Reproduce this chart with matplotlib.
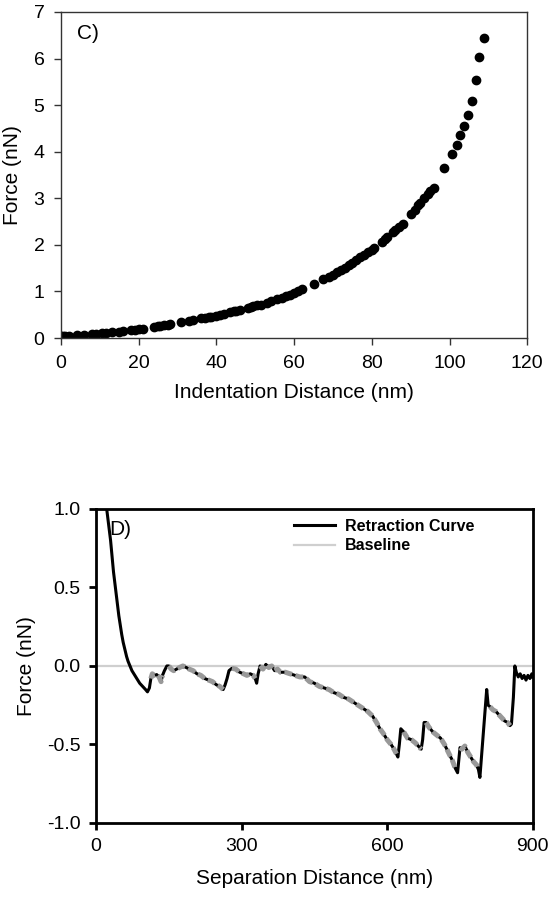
import numpy as np
import matplotlib.pyplot as plt

plt.rcParams['font.family'] = ['Liberation Sans', 'DejaVu Sans']

# panel C: indentation (nm) vs force (nN)
indent_nm = [0, 0.5, 1, 2, 4, 6, 8, 9, 10.5, 11.5, 13, 15, 16, 18, 19, 20, 21,
             24, 25, 25.5, 26.5, 27.5, 28, 31, 33, 34, 36, 37, 38, 38.5, 40, 41,
             42, 43.5, 44.5, 45, 46, 48, 49, 49.5, 50.5, 51.5, 53, 54, 55.5, 57,
             58, 59, 60, 61, 62, 65, 67.5, 69, 70, 71, 72, 73, 74, 75, 76, 77,
             78, 79, 80, 80.5, 82.5, 83.5, 84, 85.5, 86, 87, 88, 90, 91, 92,
             92.5, 93.5, 94.5, 95, 96, 98.6, 100.7, 102, 102.8, 103.8, 104.8,
             105.8, 106.9, 107.7, 108.9]
force_nN = [0.04, 0.04, 0.05, 0.05, 0.06, 0.07, 0.08, 0.09, 0.10, 0.11, 0.12,
            0.14, 0.15, 0.17, 0.18, 0.19, 0.20, 0.24, 0.26, 0.26, 0.28, 0.29,
            0.30, 0.34, 0.37, 0.38, 0.42, 0.43, 0.45, 0.46, 0.48, 0.50, 0.52,
            0.55, 0.57, 0.58, 0.60, 0.64, 0.66, 0.68, 0.70, 0.72, 0.76, 0.79,
            0.83, 0.87, 0.90, 0.93, 0.97, 1.00, 1.05, 1.15, 1.26, 1.32, 1.36,
            1.41, 1.46, 1.51, 1.56, 1.62, 1.67, 1.73, 1.78, 1.84, 1.90, 1.93,
            2.06, 2.12, 2.16, 2.27, 2.31, 2.38, 2.45, 2.66, 2.75, 2.85, 2.90,
            3.00, 3.10, 3.15, 3.22, 3.65, 3.95, 4.14, 4.36, 4.55, 4.79, 5.09,
            5.54, 6.04, 6.45]

# panel D: retraction curve, separation (nm) vs force (nN)
sep_nm = [18, 22, 26, 30, 33, 36, 40, 44, 47, 50, 53, 56, 60, 63, 66, 70, 74,
          78, 84, 90, 96, 102, 106, 110, 113, 116, 120, 125, 130, 134, 137,
          141, 146, 150, 155, 160, 166, 172, 179, 186, 192, 200, 208, 216, 224,
          232, 240, 248, 255, 262, 266, 270, 274, 280, 288, 296, 304, 311, 318,
          324, 328, 331, 334, 338, 344, 350, 356, 362, 368, 374, 380, 390, 400,
          410, 420, 430, 440, 450, 460, 470, 480, 490, 500, 510, 520, 530, 540,
          550, 560, 570, 578, 585, 592, 600, 608, 614, 619, 622, 625, 628, 634,
          642, 650, 658, 664, 670, 673, 676, 680, 686, 694, 702, 710, 718, 726,
          734, 740, 745, 748, 750, 754, 760, 766, 772, 778, 784, 788, 791, 795,
          800, 805, 808, 812, 818, 824, 830, 836, 842, 848, 853, 856, 860, 863,
          866, 870, 874, 878, 882, 886, 890, 894, 898, 900]
retract_nN = [1.08, 1.0, 0.9, 0.80, 0.70, 0.60, 0.50, 0.40, 0.32, 0.26, 0.20,
              0.15, 0.10, 0.06, 0.03, 0.0, -0.03, -0.05, -0.08, -0.11, -0.13,
              -0.15, -0.165, -0.14, -0.08, -0.05, -0.06, -0.055, -0.07, -0.10,
              -0.06, -0.03, 0.0, 0.0, -0.02, -0.03, -0.02, -0.01, 0.0, -0.01,
              -0.02, -0.03, -0.05, -0.06, -0.08, -0.09, -0.10, -0.12, -0.13,
              -0.15, -0.12, -0.08, -0.03, -0.015, -0.02, -0.04, -0.05, -0.06,
              -0.05, -0.06, -0.08, -0.11, -0.05, 0.0, -0.02, 0.01, -0.01, 0.0,
              -0.03, -0.02, -0.04, -0.04, -0.05, -0.06, -0.07, -0.07, -0.10,
              -0.11, -0.13, -0.14, -0.15, -0.17, -0.18, -0.20, -0.21, -0.23,
              -0.25, -0.27, -0.29, -0.32, -0.36, -0.40, -0.43, -0.47, -0.50,
              -0.53, -0.56, -0.58, -0.50, -0.40, -0.42, -0.46, -0.47, -0.49,
              -0.51, -0.53, -0.47, -0.36, -0.36, -0.39, -0.42, -0.44, -0.46,
              -0.50, -0.55, -0.60, -0.65, -0.68, -0.58, -0.52, -0.53, -0.51,
              -0.55, -0.58, -0.61, -0.63, -0.66, -0.71, -0.55, -0.35, -0.15,
              -0.25, -0.26, -0.28, -0.29, -0.31, -0.33, -0.35, -0.36, -0.38,
              -0.37, -0.20, 0.0, -0.04, -0.07, -0.05, -0.08, -0.06, -0.09,
              -0.06, -0.08, -0.05, -0.07]
# stretches where the grey trace sits on top of the black one
overlay_ranges = [(113, 140), (150, 262), (280, 330), (338, 620),
                  (630, 670), (680, 744), (750, 788), (810, 853)]
baseline_nN = 0.0

fig = plt.figure(figsize=(5.55, 9.0), dpi=100)

# ---- C) ----
ax1 = fig.add_axes([0.110, 0.6244, 0.840, 0.3623])
ax1.plot(indent_nm, force_nN, 'o', color='black', markersize=6)
ax1.set_xlim(0, 120)
ax1.set_ylim(0, 7)
ax1.set_xticks(range(0, 121, 20))
ax1.set_yticks(range(0, 8))
ax1.set_xlabel("Indentation Distance (nm)", fontsize=15, labelpad=8)
ax1.set_ylabel("Force (nN)", fontsize=15, labelpad=8)
ax1.tick_params(labelsize=14, length=5, width=1, direction='out', pad=7,
                color='#333333')
for s in ax1.spines.values():
    s.set_linewidth(1)
    s.set_color('#333333')
ax1.text(0.035, 0.935, "C)", transform=ax1.transAxes, fontsize=15, va='center')

# ---- D) ----
ax2 = fig.add_axes([0.173, 0.0856, 0.787, 0.3489])
sep = np.array(sep_nm, dtype=float)
ret = np.array(retract_nN)
ax2.axhline(baseline_nN, color='#cfcfcf', lw=1.6, label='Baseline', zorder=1)
ax2.plot(sep, ret, color='black', lw=2.2, label='Retraction Curve', zorder=2)
for lo, hi in overlay_ranges:
    m = (sep >= lo) & (sep <= hi)
    ax2.plot(sep[m], ret[m], color='#999999', lw=3.6,
             linestyle=(0, (1.6, 0.7)), zorder=3)
ax2.set_xlim(0, 900)
ax2.set_ylim(-1, 1)
ax2.set_xticks([0, 300, 600, 900])
ax2.set_yticks([-1.0, -0.5, 0.0, 0.5, 1.0])
ax2.set_yticklabels(['-1.0', '-0.5', '0.0', '0.5', '1.0'])
ax2.set_xlabel("Separation Distance (nm)", fontsize=15, labelpad=10)
ax2.set_ylabel("Force (nN)", fontsize=15, labelpad=8)
ax2.tick_params(labelsize=14, length=5, width=2, direction='out', pad=6)
for s in ax2.spines.values():
    s.set_linewidth(2)
ax2.text(0.03, 0.935, "D)", transform=ax2.transAxes, fontsize=15, va='center')

h, l = ax2.get_legend_handles_labels()
ax2.legend(h[::-1], l[::-1], loc='upper left', bbox_to_anchor=(0.42, 1.015),
           frameon=False, handlelength=2.6, handletextpad=0.6,
           labelspacing=0.3, prop={'weight': 'bold', 'size': 11.5})

plt.savefig('out.png', dpi=100)
